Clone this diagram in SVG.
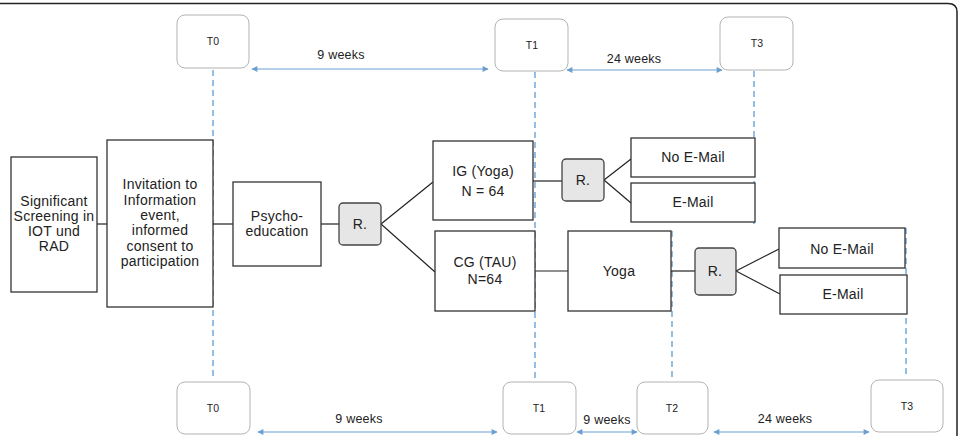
<svg xmlns="http://www.w3.org/2000/svg" width="959" height="436" viewBox="0 0 959 436">
<defs>
<style>
.box{fill:#fff;stroke:#333;stroke-width:1.3}
.r{fill:#e6e6e6;stroke:#444;stroke-width:1.3}
.tb{fill:#fff;stroke:#aaa;stroke-width:0.9}
.t{font-family:"Liberation Sans",Arial,sans-serif;font-size:14px;letter-spacing:0.25px;fill:#222;text-anchor:middle}
.ts{font-family:"Liberation Sans",Arial,sans-serif;font-size:10.5px;fill:#222;text-anchor:middle}
.tw{font-family:"Liberation Sans",Arial,sans-serif;font-size:12.5px;letter-spacing:0.2px;fill:#222;text-anchor:middle}
.ln{stroke:#222;stroke-width:1.2;fill:none}
.dash{stroke:#5b9bd5;stroke-width:1.3;stroke-dasharray:6,4;fill:none}
.arr{stroke:#6a9fd0;stroke-width:1.1;fill:none;marker-start:url(#ah);marker-end:url(#ah)}
</style>
<marker id="ah" viewBox="0 0 10 10" refX="9" refY="5" markerWidth="7" markerHeight="6" orient="auto-start-reverse" markerUnits="userSpaceOnUse">
<path d="M0,0 L10,5 L0,10 z" fill="#6a9fd0"/>
</marker>
</defs>
<rect width="959" height="436" fill="#fff"/>
<path d="M0,3.5 H948 Q957,3.5 957,12 V436" fill="none" stroke="#222" stroke-width="1.5"/>

<g id="connectors">
<line class="dash" x1="213" y1="70" x2="213" y2="380"/>
<line class="dash" x1="535" y1="72" x2="535" y2="380"/>
<line class="dash" x1="672" y1="231" x2="672" y2="380"/>
<line class="dash" x1="754" y1="71" x2="754" y2="224"/>
<line class="dash" x1="906" y1="228" x2="906" y2="378"/>
<line class="arr" x1="252" y1="69" x2="488" y2="69"/>
<line class="arr" x1="567" y1="70" x2="722" y2="70"/>
<line class="arr" x1="258" y1="432" x2="497" y2="432"/>
<line class="arr" x1="577" y1="432" x2="637" y2="432"/>
<line class="arr" x1="714" y1="432" x2="869" y2="432"/>
<line class="ln" x1="97" y1="224" x2="107" y2="224"/>
<line class="ln" x1="213" y1="224" x2="233" y2="224"/>
<line class="ln" x1="321" y1="224" x2="339" y2="224"/>
<line class="ln" x1="381" y1="224" x2="433" y2="182"/>
<line class="ln" x1="381" y1="224" x2="435" y2="272"/>
<line class="ln" x1="533" y1="181" x2="562" y2="181"/>
<line class="ln" x1="604" y1="180" x2="631" y2="159"/>
<line class="ln" x1="604" y1="180" x2="631" y2="203"/>
<line class="ln" x1="535" y1="271" x2="568" y2="271"/>
<line class="ln" x1="671" y1="271" x2="695" y2="271"/>
<line class="ln" x1="736" y1="271" x2="779" y2="249"/>
<line class="ln" x1="736" y1="271" x2="780" y2="294"/>
</g>

<g id="screening"><rect class="box" x="11" y="157" width="86" height="135"/>
<text class="t" x="54" y="206">Significant</text><text class="t" x="54" y="221">Screening in</text><text class="t" x="54" y="236">IOT und</text><text class="t" x="54" y="251">RAD</text></g>
<g id="invitation"><rect class="box" x="107" y="140" width="106" height="167"/>
<text class="t" x="160" y="189">Invitation to</text><text class="t" x="160" y="204.5">Information</text><text class="t" x="160" y="220">event,</text><text class="t" x="160" y="235">informed</text><text class="t" x="160" y="250.5">consent to</text><text class="t" x="160" y="266">participation</text></g>
<g id="psycho"><rect class="box" x="233" y="182" width="88" height="84"/>
<text class="t" x="277" y="221">Psycho-</text><text class="t" x="277" y="236">education</text></g>
<g id="r1"><rect class="r" x="339" y="203" width="42" height="42" rx="4"/><text class="t" x="360" y="229">R.</text></g>
<g id="ig"><rect class="box" x="433" y="141" width="100" height="79"/>
<text class="t" x="483" y="176">IG (Yoga)</text><text class="t" x="483" y="196">N = 64</text></g>
<g id="cg"><rect class="box" x="435" y="231" width="100" height="80"/>
<text class="t" x="485" y="267">CG (TAU)</text><text class="t" x="485" y="284">N=64</text></g>
<g id="r2"><rect class="r" x="562" y="159" width="42" height="42" rx="4"/><text class="t" x="583" y="185">R.</text></g>
<g id="noemail1"><rect class="box" x="631" y="138" width="124" height="39"/><text class="t" x="693" y="162">No E-Mail</text></g>
<g id="email1"><rect class="box" x="631" y="183" width="124" height="39"/><text class="t" x="693" y="207">E-Mail</text></g>
<g id="yoga"><rect class="box" x="568" y="231" width="103" height="80"/><text class="t" x="619" y="276">Yoga</text></g>
<g id="r3"><rect class="r" x="695" y="248" width="41" height="47" rx="4"/><text class="t" x="715" y="276">R.</text></g>
<g id="noemail2"><rect class="box" x="779" y="228" width="126" height="40"/><text class="t" x="842" y="254">No E-Mail</text></g>
<g id="email2"><rect class="box" x="780" y="275" width="127" height="39"/><text class="t" x="843" y="299">E-Mail</text></g>

<g id="t0top"><rect class="tb" x="177" y="15" width="72" height="53" rx="8"/><text class="ts" x="213" y="45">T0</text></g>
<g id="t1top"><rect class="tb" x="495" y="19" width="73" height="52" rx="8"/><text class="ts" x="532" y="49">T1</text></g>
<g id="t3top"><rect class="tb" x="720" y="17" width="73" height="53" rx="8"/><text class="ts" x="757" y="47">T3</text></g>
<g id="t0bot"><rect class="tb" x="177" y="382" width="73" height="52" rx="8"/><text class="ts" x="213" y="412">T0</text></g>
<g id="t1bot"><rect class="tb" x="503" y="382" width="73" height="52" rx="8"/><text class="ts" x="539" y="412">T1</text></g>
<g id="t2bot"><rect class="tb" x="637" y="382" width="71" height="52" rx="8"/><text class="ts" x="672" y="412">T2</text></g>
<g id="t3bot"><rect class="tb" x="871" y="380" width="72" height="52" rx="8"/><text class="ts" x="907" y="410">T3</text></g>

<g id="labels">
<text class="tw" x="341" y="59">9 weeks</text>
<text class="tw" x="634" y="63">24 weeks</text>
<text class="tw" x="359" y="423">9 weeks</text>
<text class="tw" x="607" y="424">9 weeks</text>
<text class="tw" x="785" y="423">24 weeks</text>
</g>
</svg>
